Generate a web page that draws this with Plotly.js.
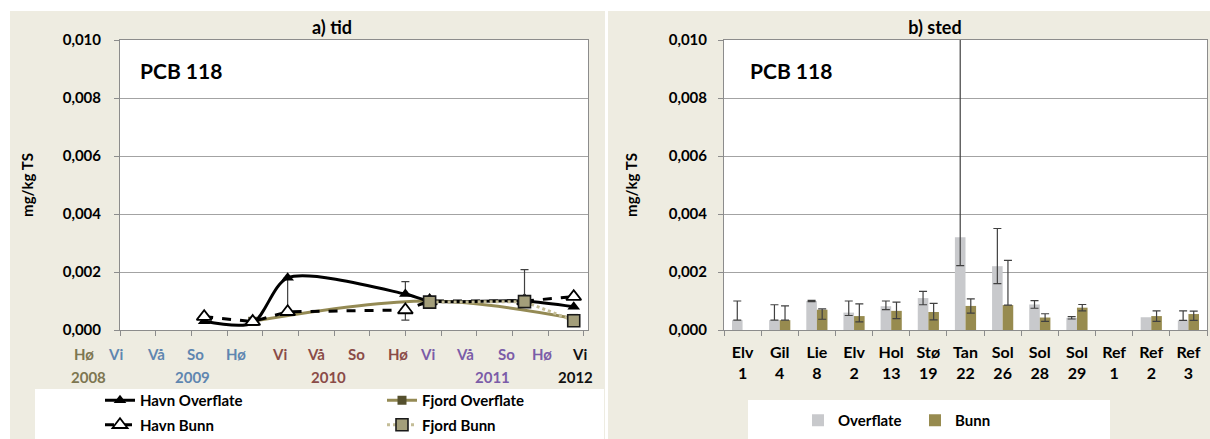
<!DOCTYPE html>
<html><head><meta charset="utf-8">
<script src="https://cdn.plot.ly/plotly-3.0.1.min.js"></script>
<style>
html,body{margin:0;padding:0;background:#fff;width:1210px;height:439px;overflow:hidden;}
#left{position:absolute;left:10px;top:11px;width:595px;height:428px;}
#right{position:absolute;left:608px;top:11px;width:602px;height:428px;}
</style></head><body>
<div id="left"></div><div id="right"></div>
<script>
// ---------- DATA: a) tid ----------
const havnTimes = [2009.59, 2009.93, 2010.175, 2011.0, 2011.17, 2011.835, 2012.18];
const havnOverflate = [0.0003, 0.00024, 0.0018, 0.00124, 0.001, 0.001, 0.0008];
const havnOverflatePlus = [NaN, NaN, 0, 0.00043, NaN, NaN, NaN];
const havnOverflateMinus = [NaN, NaN, 0.00117, 0, NaN, NaN, NaN];
const havnBunn = [0.00046, 0.00029, 0.00063, 0.00069, 0.001, 0.001, 0.00115];
const havnBunnPlus = [NaN, NaN, NaN, 0, NaN, NaN, NaN];
const havnBunnMinus = [NaN, NaN, NaN, 0.00035, NaN, NaN, NaN];
const fjordOverTimes = [2009.93, 2011.17, 2012.18];
const fjordOverflate = [0.0003, 0.001, 0.0004];
const fjordBunnTimes = [2011.17, 2011.835, 2012.18];
const fjordBunn = [0.00096, 0.00098, 0.00032];
const fjordBunnPlus = [NaN, 0.0011, NaN];
const fjordBunnMinus = [NaN, 0, NaN];
// season / year labels under the time axis (value on the time axis)
const seasonLabels = ['Hø','Vi','Vå','So','Hø','Vi','Vå','So','Hø','Vi','Vå','So','Hø','Vi'];
const seasonAt = [2008.75, 2008.97, 2009.25, 2009.53, 2009.81, 2010.12, 2010.375, 2010.66, 2010.945, 2011.155, 2011.42, 2011.71, 2011.96, 2012.22];
const seasonYear = [2008, 2009, 2009, 2009, 2009, 2010, 2010, 2010, 2010, 2011, 2011, 2011, 2011, 2012];
const yearLabels = ['2008', '2009', '2010', '2011', '2012'];
const yearAt = [2008.78, 2009.505, 2010.46, 2011.61, 2012.195];

// ---------- DATA: b) sted ----------
const stations = ['Elv<br>1','Gil<br>4','Lie<br>8','Elv<br>2','Hol<br>13','Stø<br>19','Tan<br>22','Sol<br>26','Sol<br>28','Sol<br>29','Ref<br>1','Ref<br>2','Ref<br>3'];
const overflate = [0.00034, 0.00034, 0.001, 0.0006, 0.00082, 0.0011, 0.0032, 0.0022, 0.00088, 0.00042, null, 0.00044, 0.00033];
const overflatePlus = [0.00066, 0.00053, 0.00002, 0.0004, 0.00018, 0.00023, 0.0075, 0.0013, 0.00013, 0.00004, NaN, NaN, 0.00033];
const overflateMinus = [0, 0, 0.00002, 0.0001, 0.00012, 0.00023, 0.00098, 0.0006, 0.00013, 0.00004, NaN, NaN, 0];
const bunn = [null, 0.00034, 0.0007, 0.00048, 0.00066, 0.00062, 0.00083, 0.00086, 0.00043, 0.00077, null, 0.00048, 0.00055];
const bunnPlus = [NaN, 0.00049, 0.00003, 0.00042, 0.0003, 0.0003, 0.00024, 0.00154, 0.00013, 0.00011, NaN, 0.00018, 0.0001];
const bunnMinus = [NaN, 0, 0.00033, 0.0002, 0.00027, 0.00027, 0.00025, 0, 0.00013, 0.00011, NaN, 0.00018, 0.00022];

// ---------- STYLE ----------
const FONT = 'Lato, "Open Sans", sans-serif';
const BG = '#EEECE1';
const GRID = '#A3A3A3';
const AXL = '#8C8C8C';
const yearColor = {2008:'#7D7650', 2009:'#5F86B0', 2010:'#8A4B47', 2011:'#7B5CA8', 2012:'#111111'};

// left geometry (px within div)
const LW = 595, LH = 428, L_l = 110, L_r = 17, L_t = 29, L_b = 109;
const lpw = LW - L_l - L_r, lph = LH - L_t - L_b;
const xRange = [2009.0, 2012.28];
const lx = px => (px - L_l) / lpw;
const ly = py => (LH - L_b - py) / lph;
const tx = v => (v - xRange[0]) / (xRange[1] - xRange[0]);

const errStyle = {type:'data', symmetric:false, color:'#404040', thickness:1.2, width:4};

const leftTraces = [
  {x: fjordOverTimes, y: fjordOverflate, name:'Fjord Overflate', mode:'lines+markers', legend:'legend2', legendgroup:'c', legendrank:1,
   line:{color:'#948A54', width:3, shape:'spline', smoothing:1},
   marker:{symbol:'square', size:9, color:'#55502E'}},
  {x: havnTimes, y: havnOverflate, name:'Havn Overflate', mode:'lines+markers', legend:'legend', legendgroup:'a', legendrank:1,
   line:{color:'#000', width:3, shape:'spline', smoothing:0.8},
   marker:{symbol:'triangle-up', size:11, color:'#000'},
   error_y: Object.assign({array: havnOverflatePlus, arrayminus: havnOverflateMinus}, errStyle)},
  {x: havnTimes, y: havnBunn, name:'Havn Bunn', mode:'lines+markers', legend:'legend', legendgroup:'b', legendrank:2,
   line:{color:'#000', width:3, dash:'dash'},
   marker:{symbol:'triangle-up', size:13, color:'#fff', line:{color:'#000', width:1.8}},
   error_y: Object.assign({array: havnBunnPlus, arrayminus: havnBunnMinus}, errStyle)},
  {x: fjordBunnTimes, y: fjordBunn, name:'Fjord Bunn', mode:'lines+markers', legend:'legend2', legendgroup:'d', legendrank:2,
   line:{color:'#C4BD97', width:3, dash:'dot'},
   marker:{symbol:'square', size:12, color:'#A39E7A', line:{color:'#1a1a1a', width:1.6}},
   error_y: Object.assign({array: fjordBunnPlus, arrayminus: fjordBunnMinus}, errStyle)}
];

const leftAnn = [];
seasonLabels.forEach((s, i) => leftAnn.push({
  xref:'paper', yref:'paper', x: tx(seasonAt[i]), y: ly(343), text: s, showarrow:false,
  xanchor:'center', yanchor:'middle', font:{family:FONT, size:15, weight:'bold', color: yearColor[seasonYear[i]]}
}));
yearLabels.forEach((s, i) => leftAnn.push({
  xref:'paper', yref:'paper', x: tx(yearAt[i]), y: ly(366), text: s, showarrow:false,
  xanchor:'center', yanchor:'middle', font:{family:FONT, size:15, weight:'bold', color: yearColor[+s]}
}));
leftAnn.push({xref:'paper', yref:'paper', x: 0.038, y: ly(59), text:'PCB 118', showarrow:false,
  xanchor:'left', yanchor:'middle', font:{family:FONT, size:21, weight:'bold', color:'#000'}});

const legendCommon = {orientation:'v', bgcolor:'rgba(0,0,0,0)', borderwidth:0, tracegroupgap:2,
  font:{family:FONT, size:15, weight:'bold', color:'#000'}, yanchor:'top', xanchor:'left'};

const leftLayout = {
  width: LW, height: LH, paper_bgcolor: BG, plot_bgcolor:'#fff',
  margin:{l:L_l, r:L_r, t:L_t, b:L_b, autoexpand:false}, separators: ',.', showlegend:true,
  title:{text:'a) tid', x: 322/LW, xref:'container', y: 1 - 17/LH, yref:'container', xanchor:'center', yanchor:'middle',
         font:{family:FONT, size:18, weight:'bold', color:'#000'}},
  xaxis:{range: xRange, tick0: 2009, dtick: 0.25, showticklabels:false, ticks:'outside', ticklen:5, tickcolor:AXL,
         showgrid:false, zeroline:false, showline:true, linecolor:AXL, mirror:true, fixedrange:true},
  yaxis:{range:[0, 0.010], dtick:0.002, tickformat:'.3f', ticks:'outside', ticklen:5, tickcolor:AXL, ticklabelstandoff:10,
         gridcolor:GRID, zeroline:false, showline:true, linecolor:AXL, mirror:true,
         tickfont:{family:FONT, size:15, weight:'bold', color:'#000'},
         title:{text:'mg/kg TS', standoff:25, font:{family:FONT, size:15, weight:'bold', color:'#000'}}},
  legend: Object.assign({x: lx(90), y: ly(373)}, legendCommon),
  legend2: Object.assign({x: lx(372), y: ly(373)}, legendCommon),
  annotations: leftAnn,
  shapes:[{type:'rect', xref:'paper', yref:'paper', x0: lx(25), x1: lx(594), y0: ly(378), y1: ly(430),
           fillcolor:'#fff', line:{width:0}, layer:'below'}]
};

// right geometry
const RW = 602, RH = 428, R_l = 116, R_r = 3, R_t = 29, R_b = 109;
const rpw = RW - R_l - R_r, rph = RH - R_t - R_b;
const rx = px => (px - R_l) / rpw;
const ry = py => (RH - R_b - py) / rph;

const barErr = {type:'data', symmetric:false, color:'#404040', thickness:1.2, width:4};
const rightTraces = [
  {type:'bar', x: stations, y: overflate, name:'Overflate', marker:{color:'#C8C9CC'},
   error_y: Object.assign({array: overflatePlus, arrayminus: overflateMinus}, barErr)},
  {type:'bar', x: stations, y: bunn, name:'Bunn', marker:{color:'#978B4F'},
   error_y: Object.assign({array: bunnPlus, arrayminus: bunnMinus}, barErr)}
];

const rightLayout = {
  width: RW, height: RH, paper_bgcolor: BG, plot_bgcolor:'#fff',
  margin:{l:R_l, r:R_r, t:R_t, b:R_b, autoexpand:false}, separators: ',.', barmode:'group', bargap:0.43, bargroupgap:0,
  title:{text:'b) sted', x: 327/RW, xref:'container', y: 1 - 17/RH, yref:'container', xanchor:'center', yanchor:'middle',
         font:{family:FONT, size:18, weight:'bold', color:'#000'}},
  xaxis:{type:'category', tickson:'boundaries', ticks:'outside', ticklen:5, tickcolor:AXL, ticklabelstandoff:8,
         showgrid:false, zeroline:false, showline:true, linecolor:AXL, mirror:true,
         tickfont:{family:FONT, size:16, weight:'bold', color:'#000'}},
  yaxis:{range:[0, 0.010], dtick:0.002, tickformat:'.3f', ticks:'outside', ticklen:5, tickcolor:AXL, ticklabelstandoff:8,
         gridcolor:GRID, zeroline:false, showline:true, linecolor:AXL, mirror:true,
         tickfont:{family:FONT, size:15, weight:'bold', color:'#000'},
         title:{text:'mg/kg TS', standoff:27, font:{family:FONT, size:15, weight:'bold', color:'#000'}}},
  legend:{orientation:'h', x: rx(190), y: ry(393), xanchor:'left', yanchor:'top', bgcolor:'rgba(0,0,0,0)',
          entrywidth:72, font:{family:FONT, size:15, weight:'bold', color:'#000'}},
  annotations:[{xref:'paper', yref:'paper', x: 0.05, y: ry(59), text:'PCB 118', showarrow:false,
    xanchor:'left', yanchor:'middle', font:{family:FONT, size:21, weight:'bold', color:'#000'}}],
  shapes:[{type:'rect', xref:'paper', yref:'paper', x0: rx(140), x1: rx(502), y0: ry(389), y1: ry(430),
           fillcolor:'#fff', line:{width:0}, layer:'below'}]
};

const cfg = {staticPlot:true, displayModeBar:false};
Plotly.newPlot('left', leftTraces, leftLayout, cfg);
Plotly.newPlot('right', rightTraces, rightLayout, cfg);
</script>
</body></html>
